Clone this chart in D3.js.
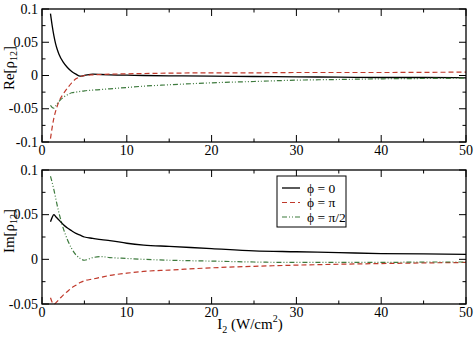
<!DOCTYPE html>
<html><head><meta charset="utf-8">
<script src="https://cdn.jsdelivr.net/npm/d3@7"></script>
<style>body{margin:0;background:#fff}svg{display:block}</style>
</head><body><svg id="c" width="474" height="343" font-family="Liberation Serif, DejaVu Serif, serif"></svg>
<script>
const xs = [1,1.2,1.4,1.6,1.8,2,2.5,3,3.5,4,4.5,5,6,7,8,10,12,15,20,25,30,35,40,45,50];
const reBlack = [0.093,0.075,0.060,0.048,0.039,0.032,0.020,0.012,0.006,0.002,-0.001,0.000,0.002,0.0015,0.001,0.0005,0,-0.0005,-0.001,-0.0015,-0.002,-0.0025,-0.003,-0.003,-0.0035];
const reRed = [-0.095,-0.078,-0.064,-0.054,-0.046,-0.039,-0.028,-0.019,-0.011,-0.005,-0.002,0.000,0.001,0.0015,0.002,0.0025,0.003,0.0035,0.004,0.004,0.0045,0.0045,0.0045,0.0048,0.005];
const reGreen = [-0.045,-0.048,-0.049,-0.046,-0.042,-0.039,-0.033,-0.029,-0.026,-0.025,-0.024,-0.023,-0.022,-0.021,-0.020,-0.018,-0.016,-0.014,-0.011,-0.009,-0.007,-0.006,-0.005,-0.0045,-0.004];
const imBlack = [0.042,0.047,0.050,0.048,0.046,0.044,0.039,0.035,0.032,0.029,0.027,0.025,0.0235,0.022,0.021,0.018,0.016,0.0145,0.012,0.0095,0.0085,0.0075,0.0065,0.006,0.0055];
const imRed = [-0.043,-0.048,-0.050,-0.049,-0.047,-0.045,-0.040,-0.036,-0.032,-0.029,-0.026,-0.024,-0.022,-0.020,-0.018,-0.0155,-0.0135,-0.012,-0.0095,-0.0078,-0.0065,-0.0055,-0.0047,-0.004,-0.0035];
const imGreen = [0.093,0.086,0.078,0.069,0.060,0.052,0.035,0.022,0.012,0.005,0.001,-0.001,0.002,0.003,0.002,0.001,0,-0.001,-0.002,-0.003,-0.0035,-0.0035,-0.0035,-0.003,-0.003];
const xTicks = [0,10,20,30,40,50];
const reTicks = [-0.1,-0.05,0,0.05,0.1];
const imTicks = [-0.05,0,0.05,0.1];
const legendLabels = ["ϕ = 0","ϕ = π","ϕ = π/2"];

const svg = d3.select("#c");
const styles = [
  {color:"#000", dash:null, w:1.3},
  {color:"#c0392b", dash:"5,3", w:1.2},
  {color:"#3d7a3d", dash:"5,2,1,2,1,2", w:1.2}
];
const x = d3.scaleLinear().domain([0,50]).range([42,466]);

function panel(top, bottom, domain, ticks, labelFmt, series, ylab, ylabY){
  const y = d3.scaleLinear().domain(domain).range([bottom, top]);
  const g = svg.append("g");
  const minorY = d3.range(domain[0], domain[1]+1e-9, 0.025);
  const minorX = d3.range(0, 51, 5);
  const tk = g.append("g").attr("stroke","#000").attr("stroke-width",1);
  minorX.forEach(v=>{
    const L = (v%10===0)?7:3.5;
    tk.append("line").attr("x1",x(v)).attr("x2",x(v)).attr("y1",bottom).attr("y2",bottom-L);
    tk.append("line").attr("x1",x(v)).attr("x2",x(v)).attr("y1",top).attr("y2",top+L);
  });
  minorY.forEach(v=>{
    const major = ticks.some(t=>Math.abs(t-v)<1e-9);
    const L = major?7:3.5;
    tk.append("line").attr("x1",42).attr("x2",42+L).attr("y1",y(v)).attr("y2",y(v));
    tk.append("line").attr("x1",466).attr("x2",466-L).attr("y1",y(v)).attr("y2",y(v));
  });
  const line = d3.line().x((d,i)=>x(xs[i])).y(d=>y(d)).curve(d3.curveMonotoneX);
  series.forEach((s,i)=>{
    g.append("path").attr("d",line(s)).attr("fill","none")
      .attr("stroke",styles[i].color).attr("stroke-width",styles[i].w)
      .attr("stroke-dasharray",styles[i].dash);
  });
  g.append("rect").attr("x",42).attr("y",top).attr("width",424).attr("height",bottom-top)
    .attr("fill","none").attr("stroke","#000").attr("stroke-width",1.3);
  ticks.forEach(v=>{
    g.append("text").attr("x",38).attr("y",y(v)+4.5).attr("text-anchor","end")
      .attr("font-size",14).text(labelFmt(v));
  });
  xTicks.forEach(v=>{
    g.append("text").attr("x",x(v)).attr("y",bottom+12.5).attr("text-anchor","middle")
      .attr("font-size",14).text(v);
  });
  const t = g.append("text").attr("transform",`translate(14,${ylabY}) rotate(-90)`)
    .attr("text-anchor","middle").attr("font-size",15);
  t.append("tspan").text(ylab+"[ρ");
  t.append("tspan").attr("font-size",10).attr("dy",3).text("12");
  t.append("tspan").attr("dy",-3).text("]");
  return y;
}
const fmt = v => v===0?"0":String(v);
panel(9,142,[-0.1,0.1],reTicks,fmt,[reBlack,reRed,reGreen],"Re",68);
panel(170,304,[-0.05,0.1],imTicks,fmt,[imBlack,imRed,imGreen],"Im",231);

const xl = svg.append("text").attr("x",250).attr("y",329).attr("text-anchor","middle").attr("font-size",15);
xl.append("tspan").text("I");
xl.append("tspan").attr("font-size",10).attr("dy",4).text("2");
xl.append("tspan").attr("dy",-4).text(" (W/cm");
xl.append("tspan").attr("font-size",10).attr("dy",-7).text("2");
xl.append("tspan").attr("dy",7).text(")");

const lg = svg.append("g");
lg.append("rect").attr("x",277).attr("y",176).attr("width",69).attr("height",51)
  .attr("fill","#fff").attr("stroke","#000").attr("stroke-width",1);
legendLabels.forEach((lab,i)=>{
  const yy = 188 + i*14.5;
  lg.append("line").attr("x1",282).attr("x2",300).attr("y1",yy).attr("y2",yy)
    .attr("stroke",styles[i].color).attr("stroke-width",styles[i].w).attr("stroke-dasharray",styles[i].dash);
  lg.append("text").attr("x",307).attr("y",yy+4.5).attr("font-size",13.5).text(lab);
});
</script></body></html>
